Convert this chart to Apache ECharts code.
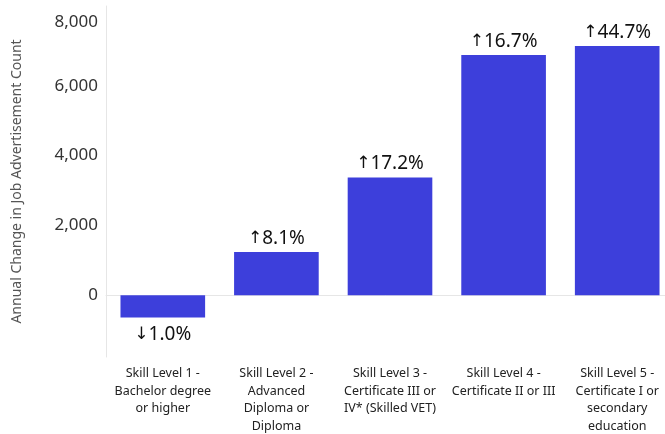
<!DOCTYPE html>
<html>
<head>
<meta charset="utf-8">
<script src="https://cdn.jsdelivr.net/npm/echarts@6/dist/echarts.min.js"></script>
<style>
html,body{margin:0;padding:0;background:#fff;}
#chart{width:665px;height:434px;}
</style>
</head>
<body>
<div id="chart"></div>
<script>
var categories = [
  "Skill Level 1 -\nBachelor degree\nor higher",
  "Skill Level 2 -\nAdvanced\nDiploma or\nDiploma",
  "Skill Level 3 -\nCertificate III or\nIV* (Skilled VET)",
  "Skill Level 4 -\nCertificate II or III",
  "Skill Level 5 -\nCertificate I or\nsecondary\neducation"
];
var changeValues = [-635, 1236, 3370, 6881, 7139];
var pctChange = [-1.0, 8.1, 17.2, 16.7, 44.7];
var yTicks = [0, 2000, 4000, 6000, 8000];
var yAxisTitle = "Annual Change in Job Advertisement Count";

var FONT = "Noto Sans";
var chart = echarts.init(document.getElementById('chart'), null, {renderer: 'canvas'});
chart.setOption({
  animation: false,
  backgroundColor: '#ffffff',
  grid: {left: 106, right: -9, top: 6, bottom: 77, containLabel: false, outerBoundsMode: 'none'},
  xAxis: {
    type: 'category',
    data: categories,
    axisLine: {show: true, lineStyle: {color: '#e6e6e6', width: 1}},
    axisTick: {show: false},
    axisLabel: {
      interval: 0, color: '#222', fontFamily: FONT, fontSize: 12.5,
      lineHeight: 17.5, margin: 8, align: 'center'
    },
    splitLine: {show: false}
  },
  yAxis: {
    type: 'value',
    min: -1768, max: 8283,
    name: yAxisTitle,
    nameLocation: 'middle',
    nameGap: 82,
    nameTextStyle: {color: '#555', fontFamily: FONT, fontSize: 14},
    axisLine: {show: true, lineStyle: {color: '#e6e6e6', width: 1}},
    axisTick: {show: false},
    splitLine: {show: false},
    axisLabel: {
      customValues: yTicks,
      color: '#333', fontFamily: FONT, fontSize: 17, margin: 8,
      formatter: function (v) {
        var s = v.toLocaleString('en-US');
        return v === 8000 ? '{t|' + s + '}' : s;
      },
      rich: {t: {color: '#333', fontFamily: FONT, fontSize: 17, padding: [13, 0, 0, 0]}}
    }
  },
  series: [{
    type: 'bar',
    data: changeValues.map(function (v, i) {
      return {
        value: v,
        label: {position: v < 0 ? 'bottom' : 'top', distance: v < 0 ? 8 : 4}
      };
    }),
    barWidth: '74.5%',
    itemStyle: {color: '#3d3fdb'},
    label: {
      show: true,
      distance: 4,
      color: '#111', fontFamily: FONT, fontSize: 19,
      formatter: function (p) {
        var c = pctChange[p.dataIndex];
        return '{a|' + (c < 0 ? '\u2193' : '\u2191') + '}' + Math.abs(c).toFixed(1) + '%';
      },
      rich: {a: {fontFamily: 'DejaVu Sans', fontSize: 17, color: '#111'}}
    }
  }]
});
</script>
</body>
</html>
